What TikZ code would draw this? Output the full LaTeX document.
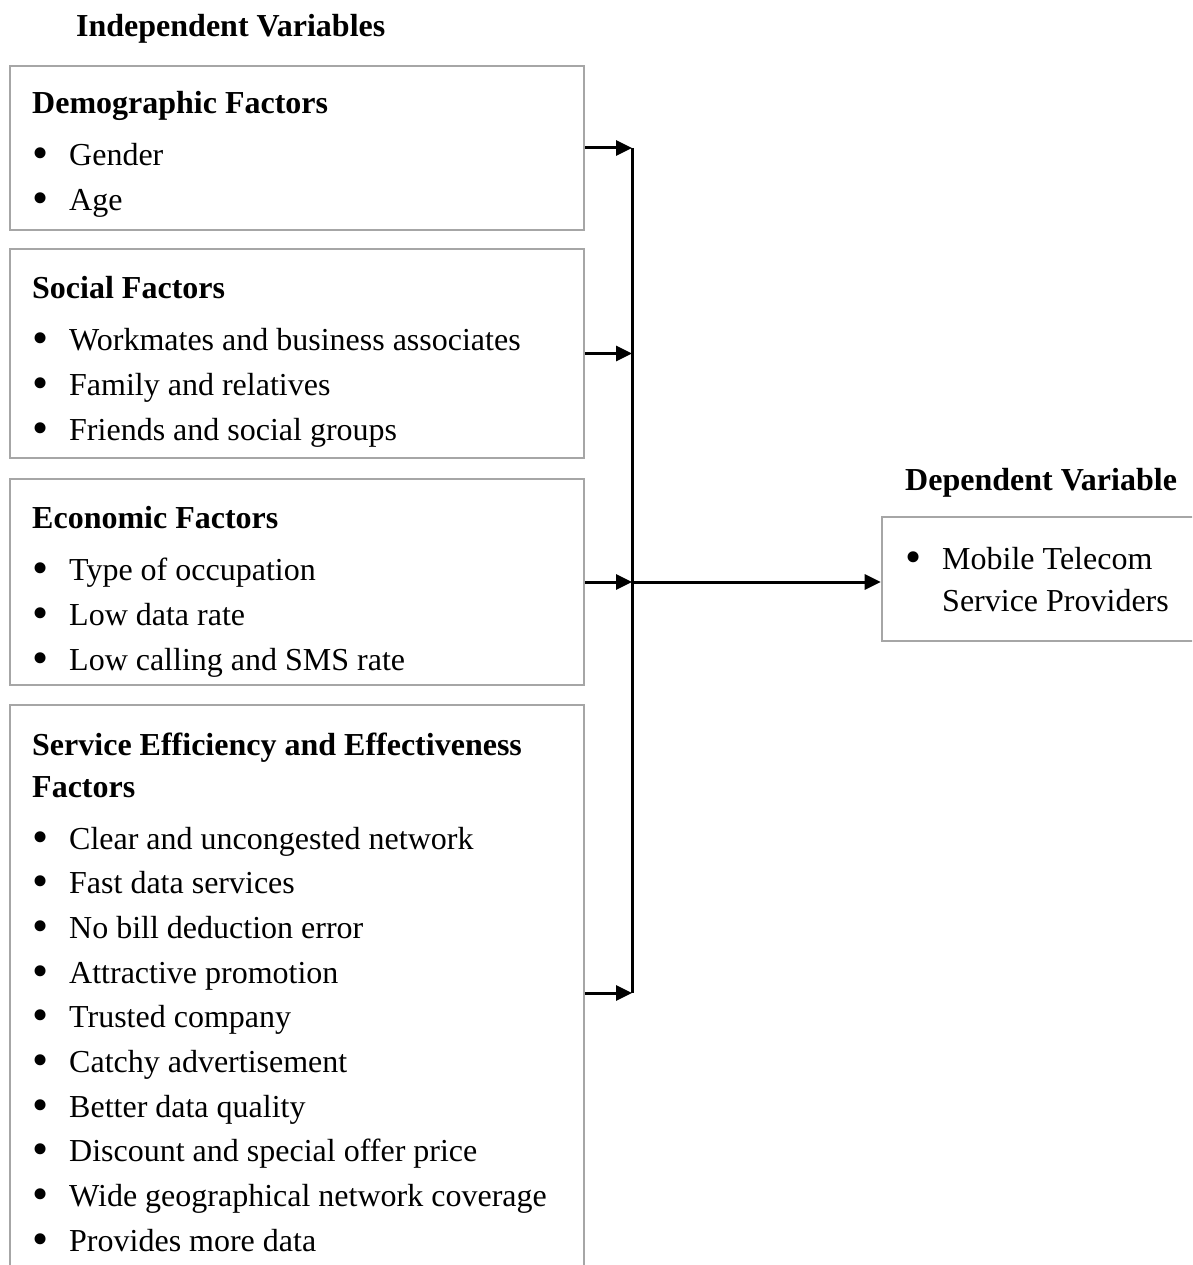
\documentclass[tikz,border=0pt]{standalone}
\usepackage{fontspec}
\setmainfont{Liberation Serif}
\usetikzlibrary{arrows.meta}
\newcommand{\bul}{\makebox[37pt][l]{\raisebox{-3pt}{\fontsize{46}{45}\selectfont\textbullet}}}
\begin{document}
\begin{tikzpicture}[x=1pt, y=-1pt, every node/.style={font=\fontsize{32}{45}\selectfont, inner sep=0pt},
  box/.style={draw=black!35, line width=2.6pt, minimum width=574, inner sep=0pt},
  head/.style={anchor=base west, font=\fontsize{32}{42}\selectfont\bfseries},
  item/.style={anchor=base west},
  arr/.style={line width=3pt, -{Triangle[length=16pt,width=15pt]}}]
\useasboundingbox (0,0) rectangle (1192,1265);
\clip (0,0) rectangle (1192,1265);
% boxes of the independent variables
\node[box, minimum height=164] (demo) at (297,148) {};
\node[box, minimum height=209] (soc) at (297,353.5) {};
\node[box, minimum height=206] (econ) at (297,582) {};
\node[box, minimum height=576] (serv) at (297,993) {};
\node[box, minimum width=328, minimum height=124] (dep) at (1046,579) {};
% titles
\node[head] (indep-title) at (76,37) {Independent Variables};
\node[head] (dep-title) at (905,490) {Dependent Variable};
\node[head] (demo-head) at (32,114) {Demographic Factors};
\node[head] (soc-head) at (32,298) {Social Factors};
\node[head] (econ-head) at (32,528) {Economic Factors};
\node[head] (serv-head) at (32,755) {Service Efficiency and Effectiveness};
\node[head] (serv-head2) at (32,797) {Factors};
% bullet lists
\foreach \t [count=\i] in {Gender, Age}
  \node[item] (demo-\i) at (32,{121+45*\i}) {\bul\t};
\foreach \t [count=\i] in {Workmates and business associates, Family and relatives, Friends and social groups}
  \node[item] (soc-\i) at (32,{305+45*\i}) {\bul\t};
\foreach \t [count=\i] in {Type of occupation, Low data rate, Low calling and SMS rate}
  \node[item] (econ-\i) at (32,{535+45*\i}) {\bul\t};
\foreach \t [count=\i] in {Clear and uncongested network, Fast data services, No bill deduction error,
    Attractive promotion, Trusted company, Catchy advertisement, Better data quality,
    Discount and special offer price, Wide geographical network coverage, Provides more data}
  \node[item] (serv-\i) at (32,{804.3+44.7*\i}) {\bul\t};
\node[item] (dep-1) at (905,569) {\bul Mobile Telecom};
\node[item] (dep-2) at (942,611) {Service Providers};
% connectors
\coordinate (bus) at (632,582);
\draw[line width=3pt] (demo.east -| bus) -- (serv.east -| bus);
\foreach \b in {demo, soc, econ, serv}
  \draw[arr] (\b.east) -- (\b.east -| bus);
\draw[arr] (bus) -- (dep.west |- bus);
\end{tikzpicture}
\end{document}
